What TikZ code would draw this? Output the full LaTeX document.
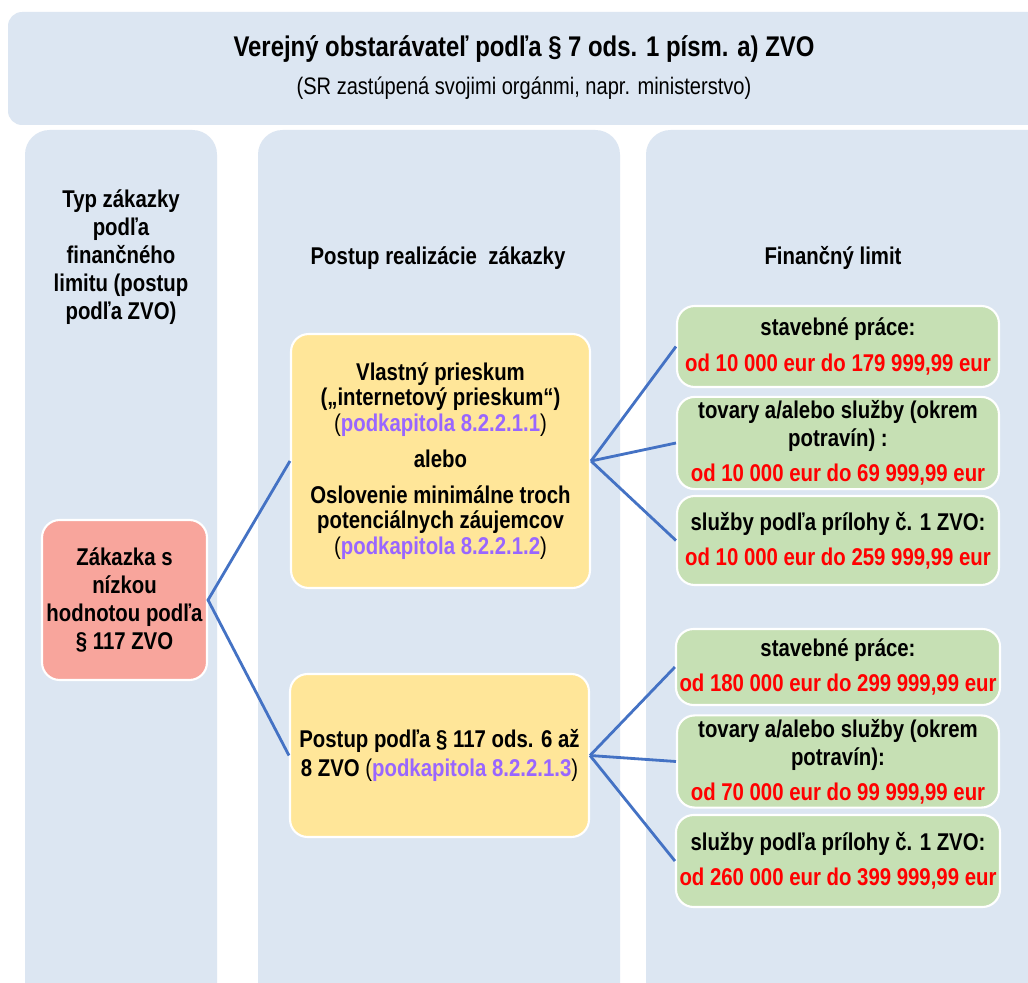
\documentclass[tikz,border=0pt]{standalone}
\usepackage{fontspec}
\setmainfont{Liberation Sans}[FakeStretch=0.84]
\usetikzlibrary{positioning}

\definecolor{colbg}{RGB}{220,230,242}
\definecolor{redbox}{RGB}{248,165,156}
\definecolor{yellowbox}{RGB}{255,230,153}
\definecolor{greenbox}{RGB}{198,224,180}
\definecolor{linkblue}{RGB}{68,114,196}
\definecolor{refpurple}{RGB}{153,102,255}
\definecolor{limitred}{RGB}{255,0,0}

\newcommand{\podkap}[1]{\textmd{(}\textcolor{refpurple}{podkapitola #1}\textmd{)}}
\newcommand{\limitline}[1]{\textcolor{limitred}{#1}}

\begin{document}
\begin{tikzpicture}[x=0.02cm,y=-0.02cm,
  font=\bfseries\fontsize{13.8}{16}\selectfont,
  column/.style={fill=colbg, rounded corners=14pt},
  box/.style={draw=white, line width=1.2pt, rounded corners=10pt, align=center, inner sep=2pt},
  rednode/.style={box, fill=redbox, minimum width=3.3cm, minimum height=3.2cm},
  yellownode/.style={box, fill=yellowbox, minimum width=5.98cm},
  greennode/.style={box, fill=greenbox, minimum width=6.44cm},
  link/.style={draw=linkblue, line width=1.6pt}]
\clip (0,0) rectangle (1028,983);
\fill[white] (0,0) rectangle (1028,983);

% background columns
\fill[column, rounded corners=8pt] (8,12) rectangle (1060,125);
\fill[column] (25,130) rectangle (217,1020);
\fill[column] (258,130) rectangle (620,1020);
\fill[column] (646,130) rectangle (1060,1020);

% headings
\node[font=\bfseries\fontsize{16.2}{18}\selectfont] (title) at (524,49) {Verejný obstarávateľ podľa § 7 ods. 1 písm. a) ZVO};
\node[font=\fontsize{13.6}{15}\selectfont] (subtitle) at (524,88) {(SR zastúpená svojimi orgánmi, napr. ministerstvo)};
\node[align=center] (typhead) at (121,257) {Typ zákazky\\podľa\\finančného\\limitu (postup\\podľa ZVO)};
\node (postuphead) at (438,258) {Postup realizácie~ zákazky};
\node (limithead) at (833,258) {Finančný limit};

% boxes
\node[rednode, align=center] (zakazka) at (124.5,600) {Zákazka s\\nízkou\\hodnotou podľa\\§ 117 ZVO};
\node[yellownode, minimum height=5.08cm, font=\bfseries\fontsize{13.8}{14.5}\selectfont] (prieskum) at (440.5,461)
  {Vlastný prieskum\\(„internetový prieskum“)\\\podkap{8.2.2.1.1}\\[6pt]alebo\\[6pt]Oslovenie minimálne troch\\potenciálnych záujemcov\\\podkap{8.2.2.1.2}};
\node[yellownode, minimum height=3.26cm] (postup) at (439.5,755.5)
  {Postup podľa § 117 ods. 6 až\\8 ZVO \podkap{8.2.2.1.3}};

\foreach \name/\y/\h/\what/\limit in {
  g1/346.5/1.62cm/{stavebné práce:}/{od 10~000 eur do 179~999,99 eur},
  g2/443/1.76cm/{tovary a/alebo služby (okrem\\potravín) :}/{od 10~000 eur do 69~999,99 eur},
  g3/540.5/1.78cm/{služby podľa prílohy č. 1 ZVO:}/{od 10~000 eur do 259~999,99 eur},
  g4/667/1.52cm/{stavebné práce:}/{od 180~000 eur do 299~999,99 eur},
  g5/761.5/1.7cm/{tovary a/alebo služby (okrem\\potravín):}/{od 70~000 eur do 99~999,99 eur},
  g6/861/1.84cm/{služby podľa prílohy č. 1 ZVO:}/{od 260~000 eur do 399~999,99 eur}}
  \node[greennode, minimum height=\h] (\name) at (838,\y) {\what\\[4pt]\limitline{\limit}};

% connectors
\draw[link] (prieskum.west) -- (zakazka.east) -- (postup.west);
\foreach \g in {g1,g2,g3}
  \draw[link] (prieskum.east) -- (\g.west);
\foreach \g in {g4,g5,g6}
  \draw[link] (postup.east) -- (\g.west);
\end{tikzpicture}
\end{document}
